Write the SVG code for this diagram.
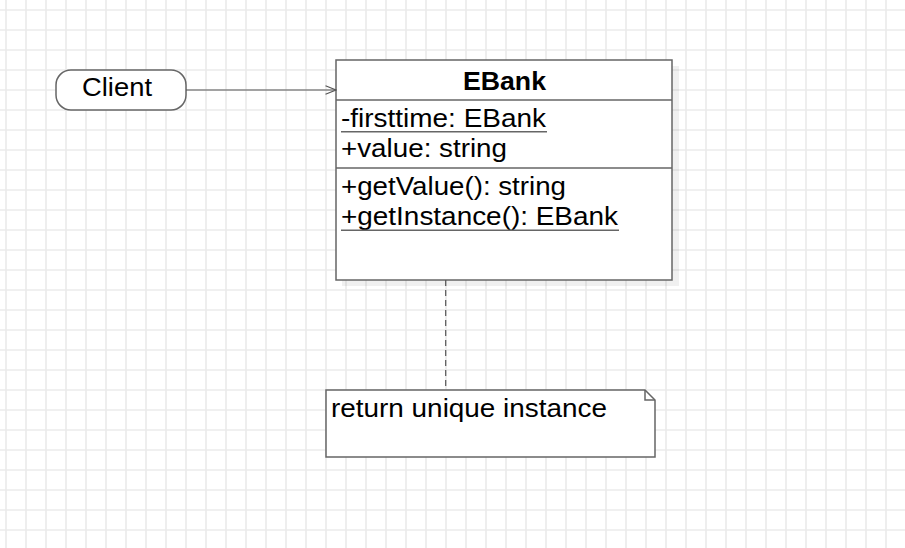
<svg xmlns="http://www.w3.org/2000/svg" width="905" height="548" viewBox="0 0 905 548">
  <defs>
    <pattern id="grid" x="-4" y="0" width="20" height="20" patternUnits="userSpaceOnUse">
      <path d="M0 10 H20 M10 0 V20" fill="none" stroke="#ebebeb" stroke-width="1.7"/>
    </pattern>
    <marker id="open" viewBox="0 0 12 10" refX="11" refY="5" markerWidth="12" markerHeight="10" markerUnits="userSpaceOnUse" orient="auto">
      <path d="M0.5 0.7 L11 5 L0.5 9.3" fill="none" stroke="#555" stroke-width="1.2"/>
    </marker>
  </defs>
  <style>
    .shape { fill: #ffffff; stroke: #666666; stroke-width: 1.5; }
    .line { fill: none; stroke: #666666; stroke-width: 1.5; }
    .txt { font-family: "Liberation Sans", Arial, sans-serif; font-size: 25.5px; fill: #000000; }
    .bold { font-weight: bold; }
    .ul { stroke: #666666; stroke-width: 1.5; }
    .conn { fill: none; stroke: #555555; stroke-width: 1.2; }
  </style>
  <rect x="0" y="0" width="905" height="548" fill="#ffffff"/>
  <rect x="0" y="0" width="905" height="548" fill="url(#grid)"/>

  <g id="client">
    <rect class="shape" x="56" y="70" width="130" height="40" rx="15" ry="15"/>
    <text class="txt" x="82" y="95.5" textLength="70" lengthAdjust="spacingAndGlyphs">Client</text>
  </g>

  <g id="ebank">
    <rect x="342" y="66" width="337" height="220" fill="#000000" fill-opacity="0.06"/>
    <rect class="shape" x="336" y="60" width="336" height="220"/>
    <line class="line" x1="336" y1="100" x2="672" y2="100"/>
    <line class="line" x1="336" y1="168" x2="672" y2="168"/>
    <text class="txt bold" x="463" y="89.5" textLength="83" lengthAdjust="spacingAndGlyphs">EBank</text>
    <text class="txt" x="341" y="127" textLength="205" lengthAdjust="spacingAndGlyphs">-firsttime: EBank</text>
    <line class="ul" x1="341" y1="131.8" x2="547" y2="131.8"/>
    <text class="txt" x="341" y="156.5" textLength="166" lengthAdjust="spacingAndGlyphs">+value: string</text>
    <text class="txt" x="341" y="195" textLength="225" lengthAdjust="spacingAndGlyphs">+getValue(): string</text>
    <text class="txt" x="341" y="224.5" textLength="277" lengthAdjust="spacingAndGlyphs">+getInstance(): EBank</text>
    <line class="ul" x1="341" y1="230.3" x2="619" y2="230.3"/>
  </g>

  <g id="note">
    <path class="shape" d="M326 390 H645 L655 400 V457 H326 Z"/>
    <path class="line" d="M645 390 V400 H655"/>
    <text class="txt" x="331" y="416.5" textLength="276" lengthAdjust="spacingAndGlyphs">return unique instance</text>
  </g>

  <g id="connectors">
    <line class="conn" x1="186" y1="90" x2="336" y2="90" marker-end="url(#open)"/>
    <line class="conn" x1="445.7" y1="280" x2="445.7" y2="390" stroke-dasharray="6 4"/>
  </g>
</svg>
